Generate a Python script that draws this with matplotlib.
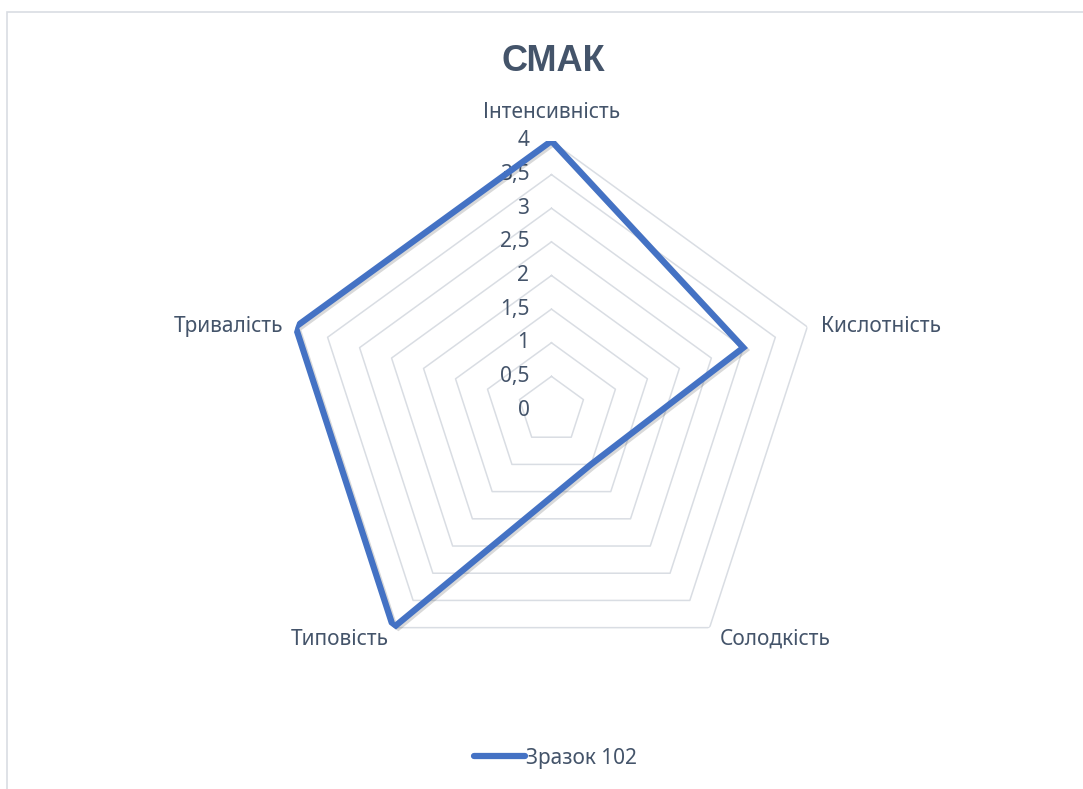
import numpy as np
import matplotlib.pyplot as plt
import matplotlib.patheffects as pe
from matplotlib.patches import Rectangle

plt.rcParams['font.family'] = ['Noto Sans', 'DejaVu Sans']

categories = ['Інтенсивність', 'Кислотність', 'Солодкість', 'Типовість', 'Тривалість']
values = [4, 3, 1, 4, 4]
series_name = 'Зразок 102'
levels = [0, 0.5, 1, 1.5, 2, 2.5, 3, 3.5, 4]
level_labels = ['0', '0,5', '1', '1,5', '2', '2,5', '3', '3,5', '4']

text_color = '#44546A'
grid_color = '#D9DDE3'
line_color = '#4472C4'

fig = plt.figure(figsize=(10.83, 7.89), dpi=100)

# рамка диаграммы
fig.patches.append(Rectangle((7 / 1083, -0.05), 1.2, 1.05 - 12 / 789,
                             transform=fig.transFigure, fill=False,
                             edgecolor='#D9DDE3', linewidth=1.2))

ax = fig.add_axes([0.2608, 0.1394, 0.4968, 0.6819], projection='polar')
ax.set_theta_offset(np.pi / 2)
ax.set_theta_direction(-1)
ax.set_ylim(0, 4)
ax.grid(False)
ax.spines['polar'].set_visible(False)
ax.set_xticks([])
ax.set_yticks([])
ax.patch.set_alpha(0)

angles = np.linspace(0, 2 * np.pi, len(categories), endpoint=False)
closed = np.append(angles, angles[0])

# пятиугольная сетка
for lv in levels:
    ax.plot(closed, [lv] * len(closed), color=grid_color, linewidth=1.1, zorder=1)

# подписи шкалы
for lv, lab in zip(levels, level_labels):
    ax.annotate(lab, xy=(0, lv), xytext=(-22, 0), textcoords='offset pixels',
                ha='right', va='center', fontsize=15, color=text_color,
                annotation_clip=False)

# подписи категорий
for ang, cat in zip(angles, categories):
    if np.isclose(ang, 0):
        ha, va, off = 'center', 'bottom', (0, 18)
    elif np.sin(ang) > 0.8:
        ha, va, off = 'left', 'center', (14, 0)
    elif np.sin(ang) < -0.8:
        ha, va, off = 'right', 'center', (-12, 0)
    elif np.sin(ang) > 0:
        ha, va, off = 'left', 'top', (10, -1)
    else:
        ha, va, off = 'right', 'top', (-5, -1)
    ax.annotate(cat, xy=(ang, 4), xytext=off, textcoords='offset pixels',
                ha=ha, va=va, fontsize=15, color=text_color,
                annotation_clip=False)

vals = values + values[:1]
ax.plot(closed, vals, color=line_color, linewidth=4.5, solid_joinstyle='miter',
        label=series_name, zorder=3,
        path_effects=[pe.SimpleLineShadow(offset=(1.5, -1.5), alpha=0.15), pe.Normal()])

fig.text(0.511, 0.922, 'СМАК', ha='center', va='center', fontsize=26,
         fontweight='bold', color=text_color, family='Liberation Sans')

leg = fig.legend(handles=[ax.lines[-1]], labels=[series_name], loc='center',
                 bbox_to_anchor=(0.513, 0.039), frameon=False, fontsize=15,
                 handlelength=2.45, handletextpad=0.05, labelcolor=text_color)
for h in leg.legend_handles:
    h.set_path_effects([])
    h.set_solid_capstyle('round')

fig.savefig('out.png', dpi=100)
